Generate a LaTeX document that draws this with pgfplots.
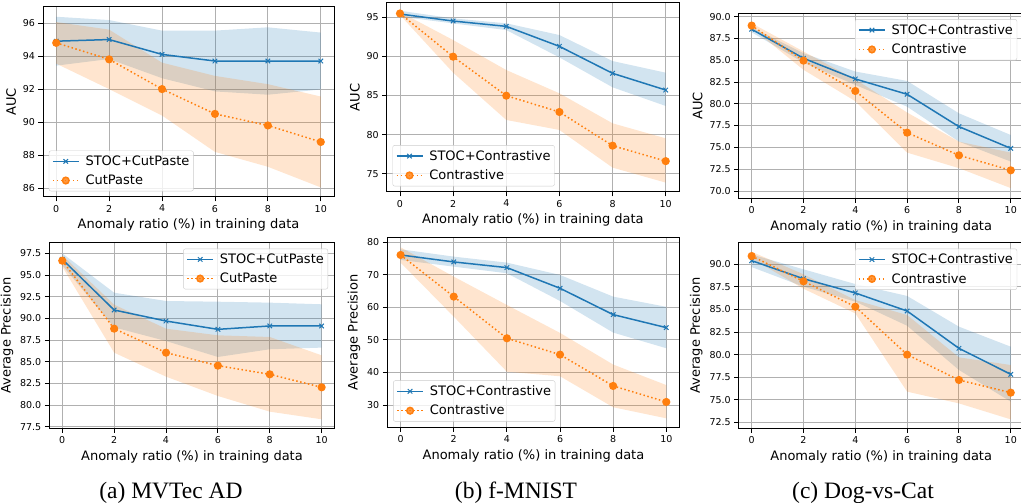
\documentclass[border=0pt]{standalone}
\usepackage{fontspec}
\setmainfont{DejaVu Sans}
\newfontfamily\capfont{Liberation Serif}
\usepackage{pgfplots}
\usepackage{pgfplotstable}
\pgfplotsset{compat=1.18}
\usepgfplotslibrary{fillbetween}

\definecolor{tblue}{HTML}{1F77B4}
\definecolor{torange}{HTML}{FF7F0E}

% columns: x, STOC mean/lo/hi, baseline mean/lo/hi
\pgfplotstableread{
x  s     slo   shi   c     clo   chi
0  94.9  93.42 96.38 94.8  93.54 96.06
2  95.0  93.82 96.18 93.8  92.0  95.6
4  94.1  92.66 95.54 92.0  90.4  93.6
6  93.7  91.86 95.54 90.5  88.2  92.8
8  93.7  91.66 95.74 89.8  87.3  92.3
10 93.7  91.98 95.42 88.8  86.05 91.55
}\mvtecauc
\pgfplotstableread{
x  s     slo   shi   c     clo   chi
0  95.43 95.09 95.85 95.5  95.3  95.7
2  94.53 94.23 94.87 89.97 87.92 92.1
4  93.85 93.38 94.24 84.98 81.87 88.26
6  91.29 89.88 92.74 82.89 80.59 85.28
8  87.84 86.05 89.41 78.58 75.77 81.44
10 85.70 83.66 87.92 76.6  73.85 79.52
}\fmnistauc
\pgfplotstableread{
x  s     slo   shi   c     clo   chi
0  88.55 88.2  88.78 88.97 88.7  89.24
2  85.22 84.72 85.8  84.95 83.9  86.0
4  82.85 82.16 83.7  81.47 80.3  82.8
6  81.09 79.67 82.62 76.69 74.4  79.0
8  77.38 75.66 78.91 74.09 72.62 75.66
10 74.89 73.37 76.42 72.37 70.33 74.4
}\dogauc
\pgfplotstableread{
x  s     slo   shi   c     clo   chi
0  96.81 96.12 97.5  96.65 95.96 97.3
2  90.96 88.96 92.96 88.81 86.04 91.58
4  89.69 87.38 92.0  86.04 83.27 88.81
6  88.73 85.54 91.92 84.54 81.04 88.04
8  89.12 86.43 91.81 83.54 79.23 87.85
10 89.12 86.62 91.62 82.04 78.35 85.73
}\mvtecap
\pgfplotstableread{
x  s     slo   shi   c     clo   chi
0  76.01 74.48 77.75 76.01 73.66 78.36
2  73.87 72.43 75.5  63.23 57.1  69.37
4  72.13 70.4  73.66 50.45 40.2  60.67
6  65.79 61.9  69.88 45.44 38.8  52.1
8  57.71 52.2  63.23 35.83 29.3  42.4
10 53.72 47.4  60.1  30.92 25.9  36.1
}\fmnistap
\pgfplotstableread{
x  s     slo   shi   c     clo   chi
0  90.41 89.7  91.1  90.92 90.66 91.4
2  88.41 87.53 89.45 88.12 87.3  88.9
4  86.83 85.87 87.82 85.31 84.57 86.05
6  84.83 83.2  86.5  80.0  75.9  84.39
8  80.7  78.3  83.1  77.19 74.6  79.7
10 77.82 74.79 80.88 75.79 72.83 78.85
}\dogap

\pgfplotsset{
  panel/.style={
    scale only axis, anchor=south west,
    xmin=-0.5, xmax=10.5, xtick={0,2,...,10},
    grid=major, grid style={color=black!31, line width=0.9pt},
    tick align=outside, tick pos=left, major tick length=4.5pt,
    tick style={black, line width=0.9pt},
    axis line style={line width=1pt},
    ticklabel style={font=\fontsize{9.5}{11}\selectfont},
    label style={font=\fontsize{13}{15}\selectfont},
    xlabel={Anomaly ratio (\%) in training data},
    /pgf/number format/assume math mode=true,
    legend style={font=\fontsize{13}{15}\selectfont, draw=black!20,
      rounded corners=2pt, fill=white, fill opacity=0.8, text opacity=1,
      inner xsep=2pt, inner ysep=3pt, row sep=4pt},
    legend cell align=left,
    legend image code/.code={\draw[mark repeat=2,mark phase=2]
      plot coordinates {(0pt,0pt) (13pt,0pt) (26pt,0pt)};
      \path (-1pt,0pt) (30pt,0pt);},
  },
  onedec/.style={yticklabel style={/pgf/number format/.cd, fixed, fixed zerofill, precision=1}},
  legLL/.style={legend style={at={(0.02,0.03)}, anchor=south west}},
  legUR/.style={legend style={at={(0.977,0.968)}, anchor=north east}},
}

\newcommand{\drawpanel}[2]{%
  \addplot[draw=none, name path=su, forget plot] table[x=x, y=shi] {#1};
  \addplot[draw=none, name path=sl, forget plot] table[x=x, y=slo] {#1};
  \addplot[fill=tblue, fill opacity=0.2, draw=none, forget plot] fill between[of=su and sl];
  \addplot[draw=none, name path=cu, forget plot] table[x=x, y=chi] {#1};
  \addplot[draw=none, name path=cl, forget plot] table[x=x, y=clo] {#1};
  \addplot[fill=torange, fill opacity=0.2, draw=none, forget plot] fill between[of=cu and cl];
  \addplot[tblue, line width=1.5pt, mark=x, mark size=3.2pt,
    mark options={solid, line width=1pt}] table[x=x, y=s] {#1};
  \addplot[torange, line width=1.5pt, dash pattern=on 1.5pt off 2.5pt,
    mark=*, mark size=3.3pt, mark options={solid, fill=torange, draw=torange}] table[x=x, y=c] {#1};
  \legend{STOC+#2, #2}
}

\begin{document}
\begin{tikzpicture}[x=1pt, y=1pt]
% top row: AUC
\begin{axis}[panel, legLL, at={(43pt,306pt)}, width=291pt, height=190pt,
  ymin=85.47, ymax=96.97, ytick={86,88,...,96}, ylabel={AUC}]
\drawpanel{\mvtecauc}{CutPaste}
\end{axis}
\begin{axis}[panel, legLL, at={(386.7pt,311pt)}, width=292.3pt, height=189.3pt,
  ymin=72.65, ymax=96.88, ytick={75,80,...,95}, ylabel={AUC}]
\drawpanel{\fmnistauc}{Contrastive}
\end{axis}
\begin{axis}[panel, legUR, onedec, at={(738.7pt,304.7pt)}, width=285pt, height=185pt,
  ymin=69.16, ymax=90.38, ytick={70,72.5,...,90}, ylabel={AUC}]
\drawpanel{\dogauc}{Contrastive}
\end{axis}
% bottom row: average precision
\begin{axis}[panel, legUR, onedec, at={(49.3pt,74.7pt)}, width=285.3pt, height=185.6pt,
  ymin=77.31, ymax=98.73, ytick={77.5,80,...,97.5}, ylabel={Average Precision}]
\drawpanel{\mvtecap}{CutPaste}
\end{axis}
\begin{axis}[panel, legLL, at={(387.3pt,75.7pt)}, width=292.3pt, height=190pt,
  ymin=23.15, ymax=81.43, ytick={30,40,...,80}, ylabel={Average Precision}]
\drawpanel{\fmnistap}{Contrastive}
\end{axis}
\begin{axis}[panel, legUR, onedec, at={(738.7pt,74.7pt)}, width=285pt, height=185.6pt,
  ymin=71.84, ymax=92.4, ytick={72.5,75,...,90}, ylabel={Average Precision}]
\drawpanel{\dogap}{Contrastive}
\end{axis}
% captions
\node[anchor=base, font=\capfont\fontsize{23.5}{26}\selectfont] at (171,4.7) {(a) MVTec AD};
\node[anchor=base, font=\capfont\fontsize{23.5}{26}\selectfont] at (516,4.7) {(b) f-MNIST};
\node[anchor=base, font=\capfont\fontsize{23.5}{26}\selectfont] at (863,4.7) {(c) Dog-vs-Cat};
\pgfresetboundingbox
\useasboundingbox (0,0) rectangle (1021,503);
\end{tikzpicture}
\end{document}
